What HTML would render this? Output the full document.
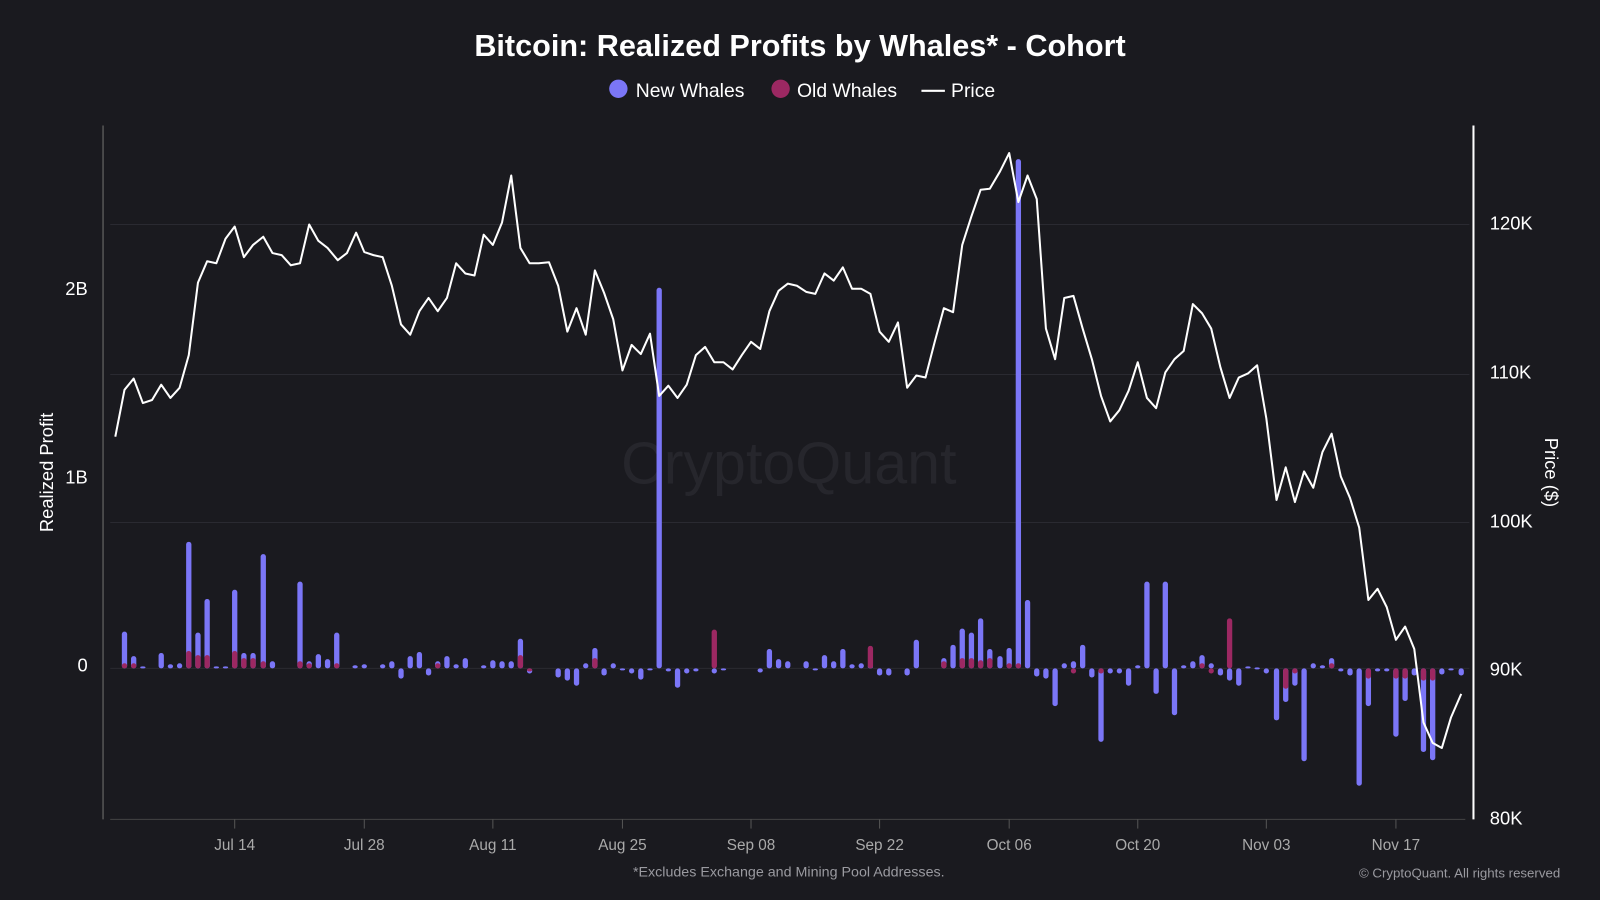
<!DOCTYPE html>
<html><head><meta charset="utf-8"><style>
html,body{margin:0;padding:0;background:#1a1a1f;}
svg{display:block;font-family:"Liberation Sans",sans-serif;}
</style></head><body>
<svg id="s" width="1600" height="900" viewBox="0 0 1568 882" preserveAspectRatio="none">
<rect width="1568" height="882" fill="#1a1a1f"/>
<g stroke="#2a2a31" stroke-width="1">
<line x1="108" y1="220" x2="1440" y2="220"/><line x1="108" y1="367" x2="1440" y2="367"/>
<line x1="108" y1="512" x2="1440" y2="512"/><line x1="108" y1="655" x2="1440" y2="655"/>
</g>
<text x="773" y="474" text-anchor="middle" font-size="58" fill="#26262c">CryptoQuant</text>
<text x="784" y="55" text-anchor="middle" font-size="30" font-weight="bold" fill="#fff">Bitcoin: Realized Profits by Whales* - Cohort</text>
<circle cx="606" cy="87" r="9" fill="#7b76f7"/><text x="623" y="95" font-size="19" fill="#fff">New Whales</text>
<circle cx="765" cy="87" r="9" fill="#9c2862"/><text x="781" y="95" font-size="19" fill="#fff">Old Whales</text>
<line x1="903" y1="89" x2="926" y2="89" stroke="#fff" stroke-width="2"/><text x="932" y="95" font-size="19" fill="#fff">Price</text>
<line x1="101" y1="123" x2="101" y2="803" stroke="#555" stroke-width="1.5"/>
<line x1="108" y1="803" x2="1436" y2="803" stroke="#444" stroke-width="1"/>
<line x1="1444" y1="123" x2="1444" y2="803" stroke="#fff" stroke-width="2"/>
<g font-size="18" fill="#fff" text-anchor="end">
<text x="86" y="289">2B</text><text x="86" y="474">1B</text><text x="86" y="658">0</text>
</g>
<g font-size="18" fill="#fff">
<text x="1460" y="225">120K</text><text x="1460" y="371">110K</text><text x="1460" y="517">100K</text>
<text x="1460" y="662">90K</text><text x="1460" y="808">80K</text>
</g>
<text transform="translate(52,463) rotate(-90)" text-anchor="middle" font-size="18" fill="#fff">Realized Profit</text>
<text transform="translate(1514,463) rotate(90)" text-anchor="middle" font-size="18" fill="#fff">Price ($)</text>
<g id="ticks" font-size="15" fill="#aaa" text-anchor="middle"></g>
<g id="bars"></g>
<polyline id="price" fill="none" stroke="#fff" stroke-width="2" stroke-linejoin="round"/>
<text x="773" y="859" text-anchor="middle" font-size="14" fill="#9a9aa0">*Excludes Exchange and Mining Pool Addresses.</text>
<text x="1529" y="860" text-anchor="end" font-size="13" fill="#9a9aa0">© CryptoQuant. All rights reserved</text>
</svg>
<script>
var NS="http://www.w3.org/2000/svg";
function el(t,a,p,txt){var e=document.createElementNS(NS,t);for(var k in a)e.setAttribute(k,a[k]);if(txt)e.textContent=txt;p.appendChild(e);return e;}
var tk=document.getElementById('ticks');
[["Jul 14",230],["Jul 28",357],["Aug 11",483],["Aug 25",610],["Sep 08",736],["Sep 22",862],["Oct 06",989],["Oct 20",1115],["Nov 03",1241],["Nov 17",1368]].forEach(function(d){
el('line',{x1:d[1],y1:803,x2:d[1],y2:812,stroke:'#555'},tk);el('text',{x:d[1],y:833},tk,d[0]);});
var P=[[113,428],[122,382],[131,371],[140,395],[149,392],[158,377],[167,390],[176,380],[185,348],[194,277],[203,256],[212,258],[221,234],[230,222],[239,252],[248,240],[258,232],[267,248],[276,250],[285,260],[294,258],[303,220],[312,236],[321,243],[331,255],[340,248],[349,228],[357,247],[366,250],[375,252],[384,280],[393,318],[402,328],[411,305],[420,292],[429,305],[438,292],[447,258],[456,268],[465,270],[474,230],[483,240],[492,218],[501,172],[510,243],[519,258],[528,258],[538,257],[547,280],[556,325],[565,302],[574,328],[583,265],[592,287],[601,313],[610,363],[619,338],[628,347],[637,327],[646,388],[655,378],[664,390],[673,377],[682,348],[691,340],[700,355],[709,355],[718,362],[727,348],[736,335],[745,342],[754,305],[763,285],[772,278],[781,280],[790,286],[799,288],[808,268],[817,275],[826,262],[835,283],[844,283],[853,288],[862,325],[871,335],[880,316],[889,380],[898,368],[907,370],[916,335],[925,302],[934,306],[943,240],[952,212],[961,186],[970,185],[980,168],[989,150],[998,198],[1007,172],[1016,195],[1025,322],[1034,352],[1043,292],[1052,290],[1061,322],[1070,352],[1079,388],[1088,413],[1097,402],[1106,383],[1115,355],[1124,390],[1133,400],[1142,365],[1151,352],[1160,344],[1169,298],[1178,307],[1187,322],[1196,360],[1205,390],[1214,370],[1223,366],[1232,358],[1241,410],[1251,490],[1260,458],[1269,492],[1278,462],[1287,478],[1296,443],[1305,425],[1314,467],[1323,488],[1332,517],[1341,588],[1350,577],[1359,595],[1368,627],[1377,614],[1386,636],[1395,708],[1404,728],[1413,733],[1422,703],[1432,680]];
document.getElementById('price').setAttribute('points',P.map(function(p){return p.join(',')}).join(' '));
var Z=655;
var B=[[122,619,650],[131,643,650],[140,653],[158,640],[167,651],[176,650],[185,531,638],[194,620,642],[203,587,642],[212,653],[221,653],[230,578,638],[239,640,645],[248,640,645],[258,543,648],[267,648],[294,570,648],[303,648,650],[312,641],[321,646],[330,620,650],[348,652],[357,651],[375,651],[384,648],[393,665],[402,643],[411,639],[420,662],[429,648,650],[438,643],[447,651],[456,645],[474,652],[483,647],[492,648],[501,648],[510,626,642],[519,660,658],[547,664],[556,667],[565,672],[574,650],[583,635,645],[592,662],[601,650],[610,657],[619,660],[628,666],[637,657],[646,282],[655,658],[664,674],[673,660],[682,658],[700,660,617],[709,656],[745,659],[754,636],[763,646],[772,648],[790,648],[799,657],[808,642],[817,648],[826,636],[835,651],[844,650],[853,652,633],[862,662],[871,662],[889,662],[898,627],[925,645,648],[934,632],[943,616,645],[952,620,645],[961,606,647],[970,636,645],[980,643],[989,635,650],[998,156,650],[1007,588],[1016,663],[1025,665],[1034,692],[1043,650],[1052,648,660],[1061,632],[1070,664],[1079,727,660],[1088,660],[1097,660],[1106,672],[1115,652],[1124,570],[1133,680],[1142,570],[1151,701],[1160,652],[1169,648],[1178,642,650],[1187,650,660],[1196,662],[1205,667,606],[1214,672],[1223,653],[1232,654],[1241,660],[1251,706],[1260,688,675],[1269,672,660],[1278,746],[1287,650],[1296,652],[1305,645,650],[1314,658],[1323,662],[1332,770],[1341,692,665],[1350,658],[1359,658],[1368,722,665],[1377,687,665],[1386,662],[1395,737,667],[1404,745,667],[1413,661],[1422,656],[1432,662]];
var g=document.getElementById('bars');
function bar(x,y1,y2,c){var t=Math.min(y1,y2),h=Math.abs(y2-y1);if(h<2){h=2;}el('rect',{x:x-2.6,y:t,width:5.2,height:h,rx:2.5,fill:c},g);}
B.forEach(function(b){var x=b[0],bl=b[1],r=b[2];
 bar(x,Z,bl,'#7b76f7');
 if(r!==undefined)bar(x,Z,r,'#9c2862');});
</script>
</body></html>
